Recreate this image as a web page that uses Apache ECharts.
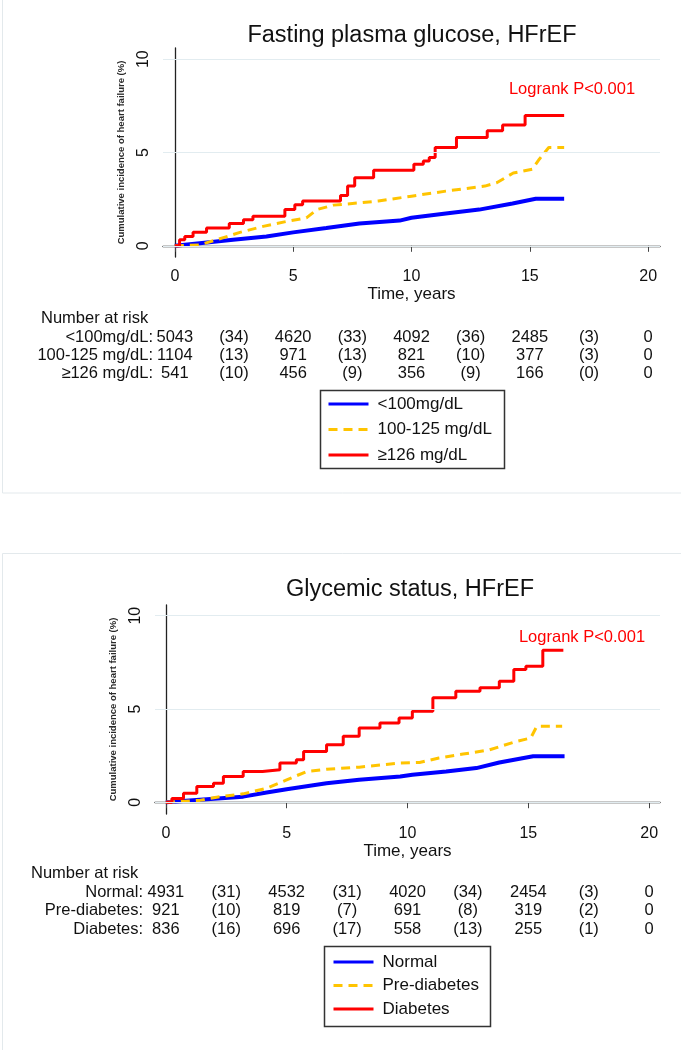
<!DOCTYPE html>
<html>
<head>
<meta charset="utf-8">
<script src="https://cdn.jsdelivr.net/npm/echarts@6/dist/echarts.min.js"></script>
<style>
  html, body { margin: 0; padding: 0; background: #fff; }
  #main { width: 681px; height: 1050px; }
</style>
</head>
<body>
<div id="main"></div>
<script>
var xTicks = [0, 5, 10, 15, 20];
var yTicks = [0, 5, 10];

// top panel - fasting plasma glucose
var fpgNames = ['<100mg/dL', '100-125 mg/dL', '≥126 mg/dL'];
var fpgLow = [[0,0],[1.05,0.14],[2.46,0.32],[3.87,0.5],[5,0.72],[6.4,0.95],[7.8,1.19],[9.5,1.35],[10,1.5],[11.45,1.73],[12.86,1.94],[14.27,2.27],[15.25,2.52],[16.45,2.52]];
var fpgMid = [[0,0],[1.05,0.05],[1.76,0.32],[2.75,0.72],[3.73,1.04],[4.7,1.3],[5.56,1.5],[6.0,1.94],[6.7,2.18],[7.8,2.3],[8.6,2.4],[10,2.66],[11.45,2.93],[13.1,3.2],[13.6,3.38],[14.3,3.9],[15.1,4.1],[15.4,4.64],[15.8,5.27],[16.45,5.27]];
var fpgHigh = [[0,0],[0.2,0.32],[0.42,0.5],[0.77,0.72],[1.34,0.95],[2.3,1.19],[2.9,1.4],[3.3,1.58],[4.65,1.94],[5.07,2.2],[5.4,2.4],[7.0,2.7],[7.3,3.2],[7.6,3.65],[8.4,4.05],[10.1,4.37],[10.5,4.55],[10.75,4.73],[11.0,5.27],[11.9,5.8],[13.2,6.17],[13.85,6.47],[14.8,6.98],[16.45,6.98]];
var fpgRowLabels = ['<100mg/dL:', '100-125 mg/dL:', '≥126 mg/dL:'];
var fpgAtRisk = [[5043,4620,4092,2485,0],[1104,971,821,377,0],[541,456,356,166,0]];
var fpgEvents = [[34,33,36,3],[13,13,10,3],[10,9,9,0]];

// bottom panel - glycemic status
var glyNames = ['Normal', 'Pre-diabetes', 'Diabetes'];
var glyNormal = [[0,0],[1.4,0.13],[3.2,0.3],[4.17,0.52],[5,0.7],[6.65,1.02],[8.0,1.2],[9.7,1.38],[10.2,1.47],[11.6,1.65],[12.85,1.83],[13.8,2.13],[15.2,2.46],[16.5,2.46]];
var glyPre = [[0,0],[1.4,0.1],[2.1,0.27],[3.2,0.45],[4.17,0.75],[5,1.2],[5.83,1.65],[6.65,1.77],[8.0,1.88],[9.7,2.1],[10.5,2.13],[11.3,2.37],[12.3,2.58],[13.4,2.81],[14.5,3.26],[15.1,3.44],[15.35,4.07],[16.4,4.07]];
var glyDiab = [[0,0],[0.25,0.2],[0.73,0.48],[1.28,0.84],[1.97,1.02],[2.38,1.38],[3.2,1.65],[4.0,1.74],[4.72,2.1],[5.4,2.28],[5.7,2.72],[6.65,3.08],[7.34,3.53],[8.0,3.98],[8.86,4.25],[9.65,4.52],[10.2,4.87],[11.05,5.6],[12.0,5.95],[13.0,6.13],[13.8,6.49],[14.4,7.11],[14.9,7.29],[15.6,8.15],[16.45,8.15]];
var glyRowLabels = ['Normal:', 'Pre-diabetes:', 'Diabetes:'];
var glyAtRisk = [[4931,4532,4020,2454,0],[921,819,691,319,0],[836,696,558,255,0]];
var glyEvents = [[31,31,34,3],[10,7,8,2],[16,17,13,1]];

var FONT = 'Liberation Sans, Arial, sans-serif';
var colBlue = '#0000ff', colYellow = '#ffc400', colRed = '#ff0000';
var yTitle = 'Cumulative incidence of heart failure (%)';

function xAxisFor(i, min, max) {
  return {
    type: 'value', gridIndex: i, min: min, max: max,
    axisLine: { show: true, lineStyle: { color: '#222', width: 1.3 } },
    axisTick: { show: true, customValues: xTicks, length: 6, lineStyle: { color: '#444' } },
    axisLabel: { customValues: xTicks, fontSize: 16, color: '#111', fontFamily: FONT, margin: 12 },
    splitLine: { show: false },
    name: 'Time, years', nameLocation: 'middle', nameGap: 28,
    nameTextStyle: { fontSize: 17, color: '#111', fontFamily: FONT }
  };
}
function yAxisFor(i, min, max) {
  return {
    type: 'value', gridIndex: i, min: min, max: max,
    axisLine: { show: true, lineStyle: { color: '#222', width: 1.3 } },
    axisTick: { show: true, customValues: yTicks, length: 6, lineStyle: { color: '#444' } },
    axisLabel: { customValues: yTicks, rotate: 90, fontSize: 16, color: '#111', fontFamily: FONT, margin: 11 },
    splitLine: { show: false },
    name: yTitle, nameLocation: 'middle', nameGap: 37,
    nameTextStyle: { fontSize: 9.5, fontWeight: 'bold', color: '#2a2a2a', fontFamily: FONT }
  };
}
function gridLines(i) {
  return {
    type: 'line', xAxisIndex: i, yAxisIndex: i, data: [], silent: true, z: 1,
    markLine: {
      silent: true, symbol: 'none', label: { show: false },
      lineStyle: { color: '#e2ecf0', type: 'solid', width: 1 },
      data: yTicks.map(function (v) { return { yAxis: v }; })
    }
  };
}
function curve(i, name, data, color, width, dashed, step) {
  return {
    type: 'line', name: name, xAxisIndex: i, yAxisIndex: i, data: data,
    symbol: 'none', showSymbol: false, step: step ? 'end' : false,
    lineStyle: { color: color, width: width, type: dashed ? [9, 6] : 'solid' },
    itemStyle: { color: color }, z: 3
  };
}
function legendFor(names, left, top, gap) {
  return {
    data: names, orient: 'vertical', left: left, top: top,
    itemWidth: 40, itemHeight: 12, itemGap: gap, selectedMode: false,
    itemStyle: { opacity: 0 },
    lineStyle: { width: 3 },
    textStyle: { fontSize: 17, color: '#111', fontFamily: FONT, padding: [0, 0, 0, 4] }
  };
}

var chart = echarts.init(document.getElementById('main'));
chart.setOption({
  animation: false,
  backgroundColor: '#fff',
  grid: [
    { left: 163, top: 48, width: 497, height: 209 },
    { left: 155, top: 605, width: 505, height: 209 }
  ],
  xAxis: [xAxisFor(0, -0.5, 20.5), xAxisFor(1, -0.45, 20.45)],
  yAxis: [yAxisFor(0, -0.6, 10.6), yAxisFor(1, -0.63, 10.57)],
  legend: [legendFor(fpgNames, 322, 390.5, 8.5), legendFor(glyNames, 327, 948.5, 6.5)],
  series: [
    gridLines(0),
    curve(0, fpgNames[0], fpgLow, colBlue, 4, false, false),
    curve(0, fpgNames[1], fpgMid, colYellow, 3, true, false),
    curve(0, fpgNames[2], fpgHigh, colRed, 3, false, true),
    gridLines(1),
    curve(1, glyNames[0], glyNormal, colBlue, 4, false, false),
    curve(1, glyNames[1], glyPre, colYellow, 3, true, false),
    curve(1, glyNames[2], glyDiab, colRed, 3, false, true)
  ]
});

// texts, risk table and frames
function txt(x, y, s, opts) {
  opts = opts || {};
  return {
    type: 'text', x: x, y: y, silent: true, z: 10,
    style: {
      text: s, fill: opts.fill || '#111', fontSize: opts.size || 16.5, fontFamily: FONT,
      align: opts.align || 'center', verticalAlign: 'middle'
    }
  };
}
function riskTable(axisIdx, headerY, rowYs, headerX, labelRight, labels, atRisk, events) {
  var els = [txt(headerX, headerY, 'Number at risk', { align: 'left' })];
  var px = xTicks.map(function (t) { return chart.convertToPixel({ xAxisIndex: axisIdx }, t); });
  rowYs.forEach(function (y, r) {
    els.push(txt(labelRight, y, labels[r], { align: 'right' }));
    atRisk[r].forEach(function (n, c) { els.push(txt(px[c], y, String(n))); });
    events[r].forEach(function (n, c) { els.push(txt((px[c] + px[c + 1]) / 2, y, '(' + n + ')')); });
  });
  return els;
}
var g = [];
g.push({ type: 'rect', shape: { x: 2.5, y: -2, width: 700, height: 495 }, style: { fill: 'none', stroke: '#e3e9ec', lineWidth: 1 }, silent: true });
g.push({ type: 'rect', shape: { x: 2.5, y: 553.5, width: 700, height: 520 }, style: { fill: 'none', stroke: '#e3e9ec', lineWidth: 1 }, silent: true });
g.push(txt(412, 36, 'Fasting plasma glucose, HFrEF', { size: 23.5 }));
g.push(txt(410, 590, 'Glycemic status, HFrEF', { size: 23.5 }));
g.push(txt(572, 89, 'Logrank P<0.001', { fill: colRed, size: 16.5 }));
g.push(txt(582, 637, 'Logrank P<0.001', { fill: colRed, size: 16.5 }));
g = g.concat(riskTable(0, 318, [337, 355, 373], 41, 153, fpgRowLabels, fpgAtRisk, fpgEvents));
g = g.concat(riskTable(1, 873, [892, 910, 929], 31, 143, glyRowLabels, glyAtRisk, glyEvents));
g.push({ type: 'rect', shape: { x: 320.5, y: 390.5, width: 184, height: 78 }, style: { fill: 'none', stroke: '#333', lineWidth: 1.5 }, silent: true });
g.push({ type: 'rect', shape: { x: 324.5, y: 946.5, width: 166, height: 80 }, style: { fill: 'none', stroke: '#333', lineWidth: 1.5 }, silent: true });
chart.setOption({ graphic: g });
</script>
</body>
</html>
